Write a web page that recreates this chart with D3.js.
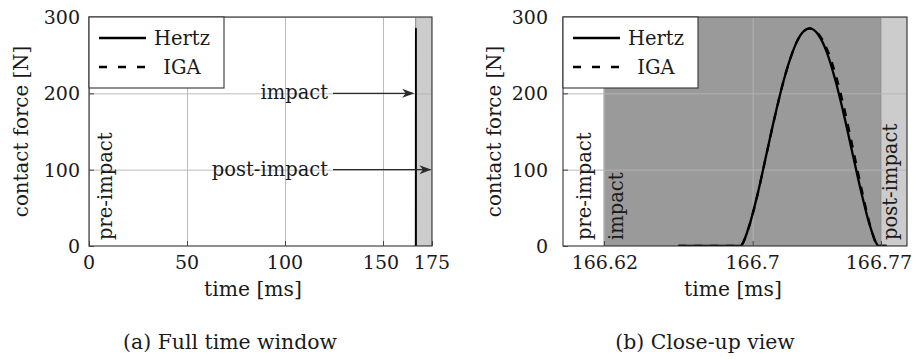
<!DOCTYPE html>
<html>
<head>
<meta charset="utf-8">
<script src="https://cdn.jsdelivr.net/npm/d3@7/dist/d3.min.js"></script>
<style>
  html, body { margin: 0; padding: 0; background: #fff; }
  svg { display: block; }
  text { font-family: "DejaVu Serif", serif; fill: #1a1a1a; }
</style>
</head>
<body>
<svg id="chart" width="917" height="359"></svg>
<script>
// ---------------- data ----------------
const fullTicks = [0, 50, 100, 150, 175];
const closeTicks = [166.62, 166.7, 166.769];
const closeTickLabels = ["166.62", "166.7", "166.77"];
const forceTicks = [0, 100, 200, 300];

const hertzTime = [166.66, 166.6932, 166.6979, 166.7026, 166.7072, 166.7119, 166.7166, 166.7213,
  166.7259, 166.7306, 166.7353, 166.7400, 166.7446, 166.7493, 166.7540, 166.7587, 166.7633, 166.7680, 166.772];
const hertzForce = [0, 0, 24.6, 67.5, 118.0, 169.5, 216.1, 253.1,
  276.8, 285.0, 276.8, 253.1, 216.1, 169.5, 118.0, 67.5, 24.6, 0, 0];

const igaTime = [166.66, 166.6932, 166.6979, 166.7026, 166.7072, 166.7119, 166.7166, 166.7213,
  166.7259, 166.7308, 166.7355, 166.7402, 166.7449, 166.7496, 166.7542, 166.7588, 166.7633, 166.7676, 166.772];
const igaForce = [0, 0, 24.2, 67.0, 117.6, 169.2, 216.0, 253.0,
  277.0, 285.0, 277.6, 256.5, 222.0, 176.5, 124.5, 72.0, 26.0, 0, 0];

const regionNames = ["pre-impact", "impact", "post-impact"];
const regionStart = [0, 166.62, 166.769];
const regionEnd = [166.62, 166.769, 175];
const regionFill = ["#ffffff", "#9a9a9a", "#cccccc"];

const seriesNames = ["Hertz", "IGA"];
const captions = ["(a) Full time window", "(b) Close-up view"];

// ---------------- drawing ----------------
const svg = d3.select("#chart");
svg.append("rect").attr("width", 917).attr("height", 359).attr("fill", "#fff");

const defs = svg.append("defs");
defs.append("marker")
  .attr("id", "stealth")
  .attr("viewBox", "0 -5 12 10")
  .attr("refX", 11).attr("refY", 0)
  .attr("markerWidth", 12).attr("markerHeight", 10)
  .attr("markerUnits", "userSpaceOnUse")
  .attr("orient", "auto")
  .append("path")
  .attr("d", "M0,-4.5 L12,0 L0,4.5 L3.5,0 Z")
  .attr("fill", "#2a2a2a");

const series = [
  { name: seriesNames[0], t: hertzTime, f: hertzForce, dash: null },
  { name: seriesNames[1], t: igaTime, f: igaForce, dash: "8,8" }
];

function panel(cfg) {
  const g = svg.append("g");
  const x = d3.scaleLinear().domain(cfg.domain).range([cfg.x0, cfg.x1]);
  const y = d3.scaleLinear().domain([0, 300]).range([cfg.y1, cfg.y0]);

  const clipId = "clip" + cfg.id;
  defs.append("clipPath").attr("id", clipId)
    .append("rect").attr("x", cfg.x0).attr("y", cfg.y0)
    .attr("width", cfg.x1 - cfg.x0).attr("height", cfg.y1 - cfg.y0);

  const plot = g.append("g").attr("clip-path", `url(#${clipId})`);

  // region fills
  regionNames.forEach((n, i) => {
    const a = Math.max(x(regionStart[i]), cfg.x0);
    const b = Math.min(x(regionEnd[i]), cfg.x1);
    if (b > a) {
      plot.append("rect")
        .attr("x", a).attr("y", cfg.y0)
        .attr("width", Math.max(b - a, 0.6)).attr("height", cfg.y1 - cfg.y0)
        .attr("fill", regionFill[i])
        .attr("stroke", i > 0 ? "#8a8a8a" : "none")
        .attr("stroke-width", 0.6);
    }
  });

  // grid
  const xGrid = d3.axisBottom(x).tickValues(cfg.ticks).tickSize(-(cfg.y1 - cfg.y0)).tickFormat("");
  plot.append("g").attr("transform", `translate(0,${cfg.y1})`).call(xGrid)
    .call(s => s.select(".domain").remove())
    .call(s => s.selectAll("line").attr("stroke", "#b3b3b3").attr("stroke-width", 0.9));
  const yGrid = d3.axisLeft(y).tickValues(forceTicks).tickSize(-(cfg.x1 - cfg.x0)).tickFormat("");
  plot.append("g").attr("transform", `translate(${cfg.x0},0)`).call(yGrid)
    .call(s => s.select(".domain").remove())
    .call(s => s.selectAll("line").attr("stroke", "#b3b3b3").attr("stroke-width", 0.9));

  // curves
  series.forEach(s => {
    const pts = s.t.map((t, i) => [t, s.f[i]]);
    const line = d3.line().x(d => x(d[0])).y(d => y(d[1])).curve(d3.curveMonotoneX);
    plot.append("path")
      .attr("d", line(pts))
      .attr("fill", "none")
      .attr("stroke", "#000")
      .attr("stroke-width", cfg.id === "a" ? 1.6 : 2.3)
      .attr("stroke-dasharray", cfg.id === "a" ? null : s.dash)
      .attr("stroke-linejoin", "round");
  });

  // region labels
  cfg.regionLabels.forEach(r => {
    const bx = Math.max(x(regionStart[r.i]), cfg.x0) + r.off;
    g.append("text")
      .attr("transform", `translate(${bx},${cfg.y1 - 6}) rotate(-90)`)
      .attr("font-size", 19.5)
      .text(regionNames[r.i]);
  });

  // frame
  g.append("rect")
    .attr("x", cfg.x0).attr("y", cfg.y0)
    .attr("width", cfg.x1 - cfg.x0).attr("height", cfg.y1 - cfg.y0)
    .attr("fill", "none").attr("stroke", "#333").attr("stroke-width", 1.1);

  // inner tick marks
  const xt = d3.axisBottom(x).tickValues(cfg.ticks).tickSize(-5).tickFormat("");
  g.append("g").attr("transform", `translate(0,${cfg.y1})`).call(xt)
    .call(s => s.select(".domain").remove())
    .call(s => s.selectAll("line").attr("stroke", "#444"));
  const yt = d3.axisLeft(y).tickValues(forceTicks).tickSize(-5).tickFormat("");
  g.append("g").attr("transform", `translate(${cfg.x0},0)`).call(yt)
    .call(s => s.select(".domain").remove())
    .call(s => s.selectAll("line").attr("stroke", "#444"));

  // tick labels
  g.append("g").selectAll("text").data(cfg.ticks).join("text")
    .attr("x", (d, i) => x(d) + (cfg.tickShift ? cfg.tickShift[i] : 0))
    .attr("y", 268.5)
    .attr("text-anchor", "middle")
    .attr("font-size", 19)
    .text((d, i) => cfg.tickLabels ? cfg.tickLabels[i] : d3.format("d")(d));
  g.append("g").selectAll("text").data(forceTicks).join("text")
    .attr("x", cfg.x0 - cfg.yLabelGap)
    .attr("y", d => y(d))
    .attr("dy", "0.36em")
    .attr("text-anchor", "end")
    .attr("font-size", 19)
    .text(d => d);

  // axis titles
  g.append("text")
    .attr("transform", `translate(${cfg.yTitleX},${(cfg.y0 + cfg.y1) / 2}) rotate(-90)`)
    .attr("text-anchor", "middle").attr("dominant-baseline", "central")
    .attr("font-size", 19.8)
    .text("contact force [N]");
  g.append("text")
    .attr("x", cfg.xTitleX).attr("y", 295.5)
    .attr("text-anchor", "middle")
    .attr("font-size", 20.3)
    .text("time [ms]");
  g.append("text")
    .attr("x", cfg.capX).attr("y", 348.5)
    .attr("text-anchor", "middle")
    .attr("font-size", 20.4)
    .text(cfg.caption);

  // legend
  const lg = g.append("g");
  lg.append("rect")
    .attr("x", cfg.x0).attr("y", cfg.y0)
    .attr("width", 135).attr("height", 71)
    .attr("fill", "#fff").attr("stroke", "#333").attr("stroke-width", 1.1);
  series.forEach((s, i) => {
    const ly = cfg.y0 + 21 + i * 29;
    lg.append("line")
      .attr("x1", cfg.x0 + 10).attr("x2", cfg.x0 + 57)
      .attr("y1", ly).attr("y2", ly)
      .attr("stroke", "#000").attr("stroke-width", 2.6)
      .attr("stroke-dasharray", s.dash ? "8,11" : null);
    lg.append("text")
      .attr("x", cfg.x0 + 93).attr("y", ly).attr("dy", "0.36em")
      .attr("text-anchor", "middle")
      .attr("font-size", 19.5)
      .text(s.name);
  });

  return { x, y, g };
}

// Panel (a)
const A = panel({
  id: "a", domain: [0, 175], x0: 89, x1: 432, y0: 17, y1: 246,
  ticks: fullTicks, tickLabels: null, tickShift: [0, 0, 0, -2, 0],
  yLabelGap: 9, yTitleX: 21, xTitleX: 253, capX: 230,
  caption: captions[0],
  regionLabels: [{ i: 0, off: 23 }]
});

// annotations in panel (a)
const ann = [
  { label: regionNames[1], f: 200, from: 124.5, to: 165.4 },
  { label: regionNames[2], f: 100, from: 124.5, to: 174.2 }
];
ann.forEach(a => {
  A.g.append("line")
    .attr("x1", A.x(a.from)).attr("x2", A.x(a.to))
    .attr("y1", A.y(a.f)).attr("y2", A.y(a.f))
    .attr("stroke", "#2a2a2a").attr("stroke-width", 1.1)
    .attr("marker-end", "url(#stealth)");
  A.g.append("text")
    .attr("x", A.x(a.from) - 5).attr("y", A.y(a.f)).attr("dy", "0.3em")
    .attr("text-anchor", "end").attr("font-size", 19.5)
    .text(a.label);
});

// Panel (b)
panel({
  id: "b", domain: [166.598, 166.783], x0: 563, x1: 907, y0: 17, y1: 246,
  ticks: closeTicks, tickLabels: closeTickLabels, tickShift: [1, 0, -2],
  yLabelGap: 15, yTitleX: 494, xTitleX: 733, capX: 705,
  caption: captions[1],
  regionLabels: [{ i: 0, off: 28 }, { i: 1, off: 19 }, { i: 2, off: 16 }]
});
</script>
</body>
</html>
